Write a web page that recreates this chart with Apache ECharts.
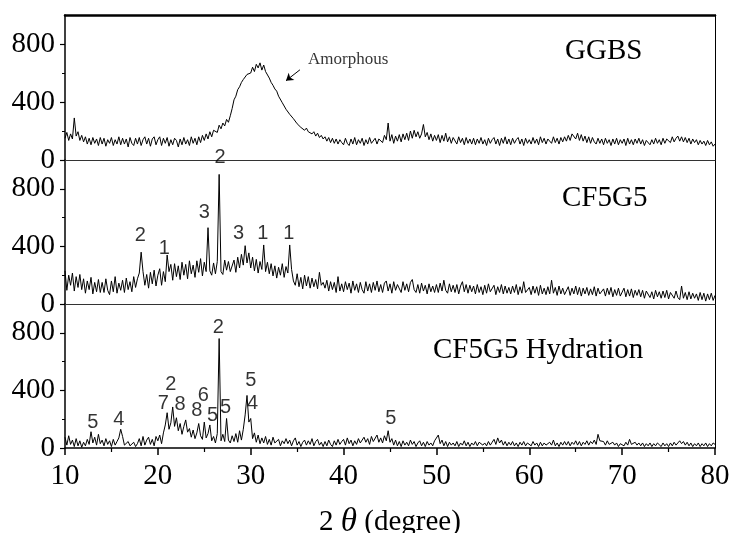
<!DOCTYPE html>
<html><head><meta charset="utf-8">
<script src="https://cdn.jsdelivr.net/npm/echarts@6/dist/echarts.min.js"></script>
<style>html,body{margin:0;padding:0;background:#fff}#c{width:733px;height:533px}</style>
</head><body><div id="c"></div>
<script>
// sampling grid of the patterns (2θ, degrees)
const thetaStart = 10, thetaStep = 0.2;

// GGBS intensity, one row per 2 degrees (10.0 .. 79.8), then 80.0
const ggbs = [
150,190,135,180,145,290,165,195,135,170,
125,160,110,150,105,155,115,145,100,155,
110,150,95,140,115,155,100,140,110,160,
105,150,110,145,90,155,115,100,150,110,
155,100,140,160,110,150,95,145,160,105,
140,160,100,150,115,155,95,140,105,150,
135,90,145,105,155,110,140,100,160,115,
150,105,160,120,170,135,180,145,195,160,
205,210,190,240,215,255,235,280,260,305,
355,415,440,485,505,535,555,550,590,600,
600,640,610,660,635,670,620,655,610,600,
565,535,515,490,475,440,435,395,390,350,
350,315,310,285,275,250,250,225,225,205,
220,195,200,180,195,165,185,155,170,145,
160,130,155,120,150,115,145,110,140,120,
105,150,115,100,145,110,155,105,140,115,
150,100,140,110,155,115,105,150,110,145,
155,120,170,140,255,130,175,115,165,130,
175,125,180,140,185,135,200,150,205,160,
195,150,180,245,160,190,140,180,130,170,
135,175,120,170,130,185,125,160,115,155,
145,110,160,120,150,105,155,115,145,110,
150,105,145,115,155,110,140,100,150,115,
140,155,110,145,100,150,115,160,110,145,
105,150,115,140,155,110,145,100,150,115,
140,110,155,115,145,105,160,120,150,110,
145,155,115,160,120,150,110,155,125,160,
130,170,135,180,190,145,185,135,175,130,
165,120,160,115,155,125,110,150,115,145,
105,150,115,140,100,145,110,150,105,140,
115,145,100,150,110,140,105,145,115,150,
110,140,100,135,145,105,140,110,150,115,
140,105,150,115,145,150,120,160,125,150,
165,130,160,125,155,120,150,110,145,120,
140,105,135,110,130,100,135,105,125,95,
110];

const cf5g5 = [
230,95,200,130,215,90,190,115,205,100,
175,75,160,100,185,70,150,85,170,80,
150,80,175,95,65,160,85,190,75,145,
95,165,80,180,100,155,85,190,115,175,
215,360,225,130,205,110,220,140,235,125,
200,245,130,225,155,340,225,275,165,280,
190,265,170,290,200,275,175,300,210,270,
185,300,220,315,195,290,225,530,230,200,
285,210,295,900,225,205,305,235,295,225,
235,305,220,325,250,345,270,405,285,355,
250,325,230,310,215,295,240,410,225,290,
210,280,195,265,180,255,200,280,185,260,
215,410,240,160,130,210,120,185,105,200,
125,190,110,180,120,170,105,220,130,150,
110,165,90,155,100,150,80,190,90,140,
85,155,100,145,75,160,95,140,80,150,
100,75,155,90,140,80,150,95,160,85,
135,80,145,160,90,140,75,155,95,135,
145,80,155,95,140,85,150,170,100,80,
135,75,145,90,130,70,140,85,125,80,
135,80,145,90,165,95,75,140,85,130,
80,135,70,125,155,85,135,75,130,85,
125,70,135,80,120,65,130,75,140,85,
75,130,65,120,80,135,70,125,75,115,
70,125,80,135,65,120,75,155,80,70,
115,65,125,75,120,60,130,70,110,65,
120,70,165,75,115,60,125,70,110,65,
75,120,60,110,70,125,65,115,55,110,
70,115,60,105,65,120,55,110,70,60,
105,55,110,65,115,50,100,60,110,55,
65,110,50,100,55,105,45,95,60,100,
50,95,40,90,100,45,85,35,95,50,
85,40,90,45,95,35,80,85,40,90,
45,30,125,40,80,30,85,35,75,40,
70,25,80,30,75,20,70,30,75,25,
60];

const hydration = [
75,20,85,25,55,10,65,15,50,5,
40,15,60,25,113,35,75,20,95,30,
55,15,65,25,50,10,60,20,45,70,
130,80,20,10,45,15,5,40,10,30,
65,15,80,20,55,75,25,60,15,80,
50,90,30,105,160,245,130,175,285,150,
210,120,170,95,150,195,110,135,75,125,
65,105,170,85,60,180,70,100,160,50,
80,35,100,760,50,95,45,205,55,35,
85,45,100,40,120,55,130,230,365,180,
205,65,105,40,90,30,70,35,80,25,
60,20,75,35,25,60,15,50,30,65,
30,55,15,50,70,20,45,10,40,55,
20,50,25,65,15,45,60,20,40,10,
45,15,55,25,10,50,20,60,25,45,
60,20,70,30,55,15,50,25,65,35,
30,75,40,65,25,80,45,35,90,40,
70,35,85,50,120,40,65,20,55,15,
45,10,50,20,40,15,55,25,45,10,
35,50,15,40,10,45,20,35,15,50,
40,90,30,55,15,45,10,40,20,35,
15,45,10,35,20,50,15,40,10,35,
20,45,15,40,50,20,35,15,45,20,
40,60,25,70,35,55,20,45,15,40,
20,45,15,35,10,40,20,45,15,35,
40,15,45,20,35,10,40,15,35,20,
15,40,20,55,15,35,10,40,20,45,
20,45,15,40,25,50,20,45,15,40,
25,50,20,45,30,55,25,95,50,40,
45,20,50,25,15,40,20,35,10,30,
35,15,40,20,60,25,15,40,20,35,
15,35,10,30,15,35,10,30,15,35,
30,10,35,15,30,10,35,15,40,20,
35,50,30,45,20,40,15,35,10,30,
15,35,10,30,15,35,10,30,15,35,
25];

const panelNames = ['GGBS', 'CF5G5', 'CF5G5 Hydration'];
const xTicks = [10, 20, 30, 40, 50, 60, 70, 80];
const yTickLabels = [0, 400, 800];
const yMinorTicks = [200, 600];

// annotations: [2θ, intensity of label centre, text]
const ggbsNotes = [[40.5, 690, 'Amorphous']];
const ggbsArrow = [[35.3, 622], [33.8, 547]];
const cf5g5Peaks = [[18.1,476,'2'],[20.7,386,'1'],[25.0,634,'3'],[26.7,1014,'2'],[28.7,490,'3'],[31.3,490,'1'],[34.1,490,'1']];
const hydrationPeaks = [[13.0,180,'5'],[15.8,200,'4'],[20.6,310,'7'],[21.4,443,'2'],[22.4,305,'8'],[24.2,263,'8'],[24.9,367,'6'],[25.9,225,'5'],[26.5,838,'2'],[27.3,284,'5'],[30.0,471,'5'],[30.2,312,'4'],[45.1,208,'5']];

const toPairs = arr => arr.map((v, i) => [+(thetaStart + i * thetaStep).toFixed(2), v]);

const serif = 'Liberation Serif';
const grids = [
  {left: 65, right: 18, top: 15, height: 145, outerBoundsMode: 'none', containLabel: false},
  {left: 65, right: 18, top: 160, height: 144, outerBoundsMode: 'none', containLabel: false},
  {left: 65, right: 18, top: 304, height: 144, outerBoundsMode: 'none', containLabel: false}
];

const baseX = {type: 'value', min: 10, max: 80, interval: 10, splitLine: {show: false}};
const plainLine = (color, width) => ({show: true, onZero: false, lineStyle: {color: color, width: width}});
const xAxis = [
  Object.assign({}, baseX, {gridIndex: 0, position: 'bottom', axisLine: plainLine('#333', 1), axisTick: {show: false}, axisLabel: {show: false}}),
  Object.assign({}, baseX, {gridIndex: 0, position: 'top', axisLine: plainLine('#000', 2.5), axisTick: {show: false}, axisLabel: {show: false}}),
  Object.assign({}, baseX, {gridIndex: 1, position: 'bottom', axisLine: plainLine('#333', 1), axisTick: {show: false}, axisLabel: {show: false}}),
  Object.assign({}, baseX, {gridIndex: 2, position: 'bottom',
    axisLine: plainLine('#000', 1.5),
    axisTick: {show: true, length: 7, lineStyle: {color: '#000', width: 1.5}},
    minorTick: {show: true, splitNumber: 2, length: 4, lineStyle: {color: '#000', width: 1.2}},
    axisLabel: {show: true, margin: 14, color: '#000', fontFamily: serif, fontSize: 29,
      formatter: v => xTicks.indexOf(v) >= 0 ? String(v) : ''},
    name: '2 {i|θ} (degree)', nameLocation: 'middle', nameGap: 58,
    nameTextStyle: {color: '#000', fontFamily: serif, fontSize: 29,
      rich: {i: {fontFamily: serif, fontStyle: 'italic', fontSize: 33, color: '#000'}}}
  })
];

const yAxis = [];
for (let g = 0; g < 3; g++) {
  yAxis.push({type: 'value', gridIndex: g, position: 'left', min: 0, max: 1000, interval: 200, splitLine: {show: false},
    axisLine: plainLine('#000', 1.5),
    axisTick: {show: true, customValues: yTickLabels, length: 5, lineStyle: {color: '#000', width: 1.2}},
    axisLabel: {show: true, customValues: yTickLabels, margin: 10, color: '#000', fontFamily: serif, fontSize: 29}
  });
}
for (let g = 0; g < 3; g++) {
  yAxis.push({type: 'value', gridIndex: g, position: 'left', min: 0, max: 1000, interval: 200, splitLine: {show: false},
    axisLine: {show: false, onZero: false},
    axisTick: {show: true, customValues: yMinorTicks, length: 3, lineStyle: {color: '#000', width: 1}},
    axisLabel: {show: false}
  });
}
for (let g = 0; g < 3; g++) {
  yAxis.push({type: 'value', gridIndex: g, position: 'right', min: 0, max: 1000, splitLine: {show: false},
    axisLine: plainLine('#000', 1),
    axisTick: {show: false}, axisLabel: {show: false}
  });
}

const xIdx = g => (g === 0 ? 0 : g + 1);
const lineSeries = (data, g, extra) => Object.assign({
  type: 'line', xAxisIndex: xIdx(g), yAxisIndex: g, data: toPairs(data),
  showSymbol: false, symbol: 'none', silent: true, animation: false,
  lineStyle: {color: '#000', width: 1}
}, extra || {});

const labelSeries = (items, g, font, size) => ({
  type: 'scatter', xAxisIndex: xIdx(g), yAxisIndex: g, clip: false, silent: true, animation: false,
  symbol: 'circle', symbolSize: 1, itemStyle: {color: 'rgba(0,0,0,0)'},
  data: items.map(p => ({value: [p[0], p[1]], name: p[2]})),
  label: {show: true, position: 'inside', formatter: '{b}', color: '#000', fontFamily: font, fontSize: size}
});

const option = {
  backgroundColor: '#fff',
  animation: false,
  grid: grids,
  xAxis: xAxis,
  yAxis: yAxis,
  title: panelNames.map((t, i) => ({
    text: t, left: [565, 562, 433][i], top: [37, 184, 336][i], padding: 0,
    textStyle: {fontFamily: serif, fontSize: 29, fontWeight: 'normal', color: '#000'}
  })),
  series: [
    lineSeries(ggbs, 0, {markLine: {silent: true, symbol: ['none', 'arrow'], symbolSize: 7, animation: false,
      lineStyle: {color: '#000', width: 1, type: 'solid'}, label: {show: false},
      data: [[{coord: ggbsArrow[0]}, {coord: ggbsArrow[1]}]]}}),
    lineSeries(cf5g5, 1),
    lineSeries(hydration, 2),
    labelSeries(ggbsNotes, 0, serif, 17),
    labelSeries(cf5g5Peaks, 1, 'Liberation Sans', 20),
    labelSeries(hydrationPeaks, 2, 'Liberation Sans', 20)
  ]
};
echarts.init(document.getElementById('c'), null, {renderer: 'canvas'}).setOption(option);
</script></body></html>
